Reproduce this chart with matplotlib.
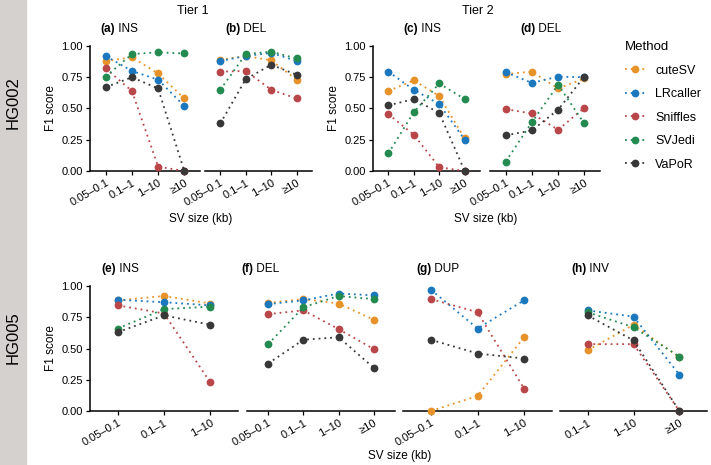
"""F1 por tamano de SV: HG002 (Tier 1 / Tier 2) y HG005."""
import matplotlib

matplotlib.use("Agg")
import matplotlib.pyplot as plt  # noqa: E402
from matplotlib.lines import Line2D  # noqa: E402

plt.rcParams["font.family"] = ["Liberation Sans", "DejaVu Sans"]

# --- Datos ---
METHODS = ["cuteSV", "LRcaller", "Sniffles", "SVJedi", "VaPoR"]
COLORS = {
    "cuteSV": "#E8922A",
    "LRcaller": "#1C78BE",
    "Sniffles": "#B9474A",
    "SVJedi": "#238A50",
    "VaPoR": "#383838",
}

SIZES_4 = ["0.05–0.1", "0.1–1", "1–10", "≥10"]
SIZES_3_SMALL = ["0.05–0.1", "0.1–1", "1–10"]
SIZES_3_LARGE = ["0.1–1", "1–10", "≥10"]

T1_INS = {
    "cuteSV": [0.88, 0.91, 0.78, 0.58],
    "LRcaller": [0.92, 0.80, 0.73, 0.52],
    "Sniffles": [0.82, 0.64, 0.035, 0.0],
    "SVJedi": [0.755, 0.935, 0.95, 0.94],
    "VaPoR": [0.67, 0.75, 0.66, 0.0],
}
T1_DEL = {
    "cuteSV": [0.89, 0.92, 0.885, 0.73],
    "LRcaller": [0.88, 0.92, 0.945, 0.88],
    "Sniffles": [0.795, 0.80, 0.65, 0.58],
    "SVJedi": [0.65, 0.935, 0.955, 0.90],
    "VaPoR": [0.38, 0.735, 0.85, 0.77],
}
T2_INS = {
    "cuteSV": [0.64, 0.725, 0.60, 0.26],
    "LRcaller": [0.795, 0.65, 0.535, 0.25],
    "Sniffles": [0.455, 0.29, 0.03, 0.0],
    "SVJedi": [0.14, 0.47, 0.70, 0.575],
    "VaPoR": [0.525, 0.575, 0.465, 0.0],
}
T2_DEL = {
    "cuteSV": [0.775, 0.795, 0.66, 0.74],
    "LRcaller": [0.79, 0.705, 0.755, 0.75],
    "Sniffles": [0.495, 0.46, 0.33, 0.505],
    "SVJedi": [0.075, 0.39, 0.69, 0.38],
    "VaPoR": [0.285, 0.325, 0.49, 0.755],
}
HG005_INS = {
    "cuteSV": [0.885, 0.92, 0.86],
    "LRcaller": [0.89, 0.87, 0.845],
    "Sniffles": [0.845, 0.78, 0.23],
    "SVJedi": [0.66, 0.815, 0.835],
    "VaPoR": [0.63, 0.765, 0.69],
}
HG005_DEL = {
    "cuteSV": [0.865, 0.895, 0.86, 0.73],
    "LRcaller": [0.855, 0.885, 0.94, 0.925],
    "Sniffles": [0.775, 0.805, 0.655, 0.495],
    "SVJedi": [0.535, 0.83, 0.92, 0.895],
    "VaPoR": [0.38, 0.57, 0.59, 0.345],
}
HG005_DUP = {
    "cuteSV": [0.0, 0.12, 0.59],
    "LRcaller": [0.97, 0.66, 0.885],
    "Sniffles": [0.895, 0.79, 0.18],
    "VaPoR": [0.57, 0.46, 0.42],
}
HG005_INV = {
    "cuteSV": [0.485, 0.69, 0.43],
    "LRcaller": [0.805, 0.755, 0.29],
    "Sniffles": [0.535, 0.535, 0.0],
    "SVJedi": [0.79, 0.67, 0.435],
    "VaPoR": [0.765, 0.565, 0.0],
}

LINEA = dict(linestyle=(0, (1, 2.2)), linewidth=1.3, marker="o",
             markersize=5.6, markeredgewidth=0)

# --- Maquetacion (pixeles de la figura 711x465) ---
W, H = 711, 465
fig = plt.figure(figsize=(W / 100, H / 100), dpi=100)
fig.patches.append(
    plt.Rectangle((0, 0), 26 / W, 1, transform=fig.transFigure,
                  color="#D5D1CF", zorder=0)
)
fig.text(13 / W, 1 - 103 / H, "HG002", rotation=90, ha="center", va="center",
         fontsize=12)
fig.text(13 / W, 1 - 338 / H, "HG005", rotation=90, ha="center", va="center",
         fontsize=12)

# (letra, tipo, categorias, datos, x0, x1, y_sup, y_inf, eje_y, x_titulo)
PANELES = [
    ("(a)", "INS", SIZES_4, T1_INS, 90, 200, 46, 171, True, 100),
    ("(b)", "DEL", SIZES_4, T1_DEL, 205, 312, 46, 171, False, 225),
    ("(c)", "INS", SIZES_4, T2_INS, 373, 480, 46, 171, True, 403),
    ("(d)", "DEL", SIZES_4, T2_DEL, 490, 600, 46, 171, False, 520),
    ("(e)", "INS", SIZES_3_SMALL, HG005_INS, 90, 238, 286, 411, True, 101),
    ("(f)", "DEL", SIZES_4, HG005_DEL, 247, 395, 286, 411, False, 241),
    ("(g)", "DUP", SIZES_3_SMALL, HG005_DUP, 403, 552, 286, 411, False, 416),
    ("(h)", "INV", SIZES_3_LARGE, HG005_INV, 560, 707, 286, 411, False, 571),
]

for letra, tipo, cats, datos, x0, x1, yt, yb, eje_y, xt in PANELES:
    ax = fig.add_axes([x0 / W, 1 - yb / H, (x1 - x0) / W, (yb - yt) / H])
    ax.set_facecolor("none")
    xs = range(len(cats))
    for m in METHODS:
        if m in datos:
            ax.plot(xs, datos[m], color=COLORS[m], clip_on=False, zorder=3,
                    **LINEA)
    ax.set_xlim(-0.6, len(cats) - 0.4)
    ax.set_ylim(0, 1)
    ax.set_xticks(list(xs))
    ax.set_xticklabels(cats, rotation=30, ha="right", rotation_mode="anchor",
                       fontsize=8)
    for lado in ("top", "right"):
        ax.spines[lado].set_visible(False)
    ax.spines["bottom"].set_linewidth(1.1)
    ax.tick_params(axis="x", length=3, width=0.9, pad=2)
    if eje_y:
        ax.spines["left"].set_linewidth(1.1)
        ax.set_yticks([0, 0.25, 0.5, 0.75, 1.0])
        ax.set_yticklabels(["0.00", "0.25", "0.50", "0.75", "1.00"], fontsize=8)
        ax.tick_params(axis="y", length=3, width=0.9, pad=2)
        ax.set_ylabel("F1 score", fontsize=8.5, labelpad=3)
    else:
        ax.spines["left"].set_visible(False)
        ax.set_yticks([])

    # titulo de panel: letra en negrita + tipo de SV
    t = fig.text(xt / W, 1 - (yt - 17) / H, letra, fontsize=8.5,
                 fontweight="bold", va="center")
    ax.annotate(" " + tipo, xy=(1, 0.5), xycoords=t, fontsize=8.5,
                va="center", ha="left", annotation_clip=False)

fig.text(193 / W, 1 - 11 / H, "Tier 1", ha="center", va="center", fontsize=9)
fig.text(478 / W, 1 - 11 / H, "Tier 2", ha="center", va="center", fontsize=9)
for x, y in [(201, 219), (486, 219), (400, 456)]:
    fig.text(x / W, 1 - y / H, "SV size (kb)", ha="center", va="center",
             fontsize=8.5)

handles = [Line2D([], [], color=COLORS[m], **LINEA) for m in METHODS]
fig.legend(handles, METHODS, title="Method", loc="upper left",
           bbox_to_anchor=(614 / W, 1 - 30 / H), frameon=False,
           fontsize=9, title_fontsize=9.5, handlelength=1.6,
           labelspacing=0.92, handletextpad=0.8, alignment="left")

fig.savefig("out.png", dpi=100)
